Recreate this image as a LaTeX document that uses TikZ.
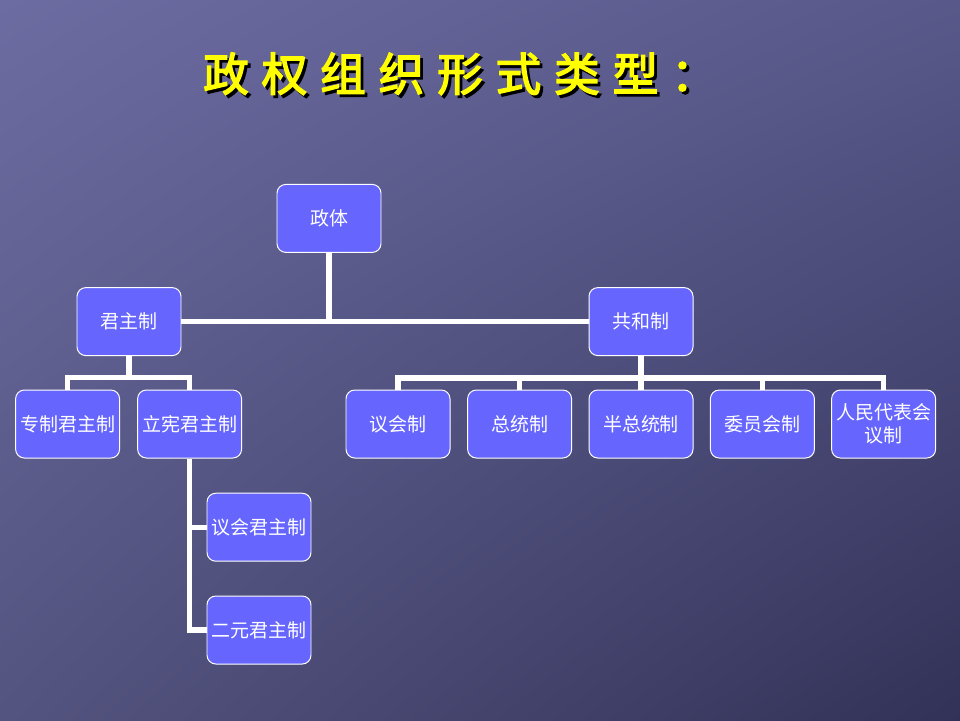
\documentclass[tikz,border=0pt]{standalone}
\usepackage{fontspec}
\usetikzlibrary{shadings}
\newfontfamily\cjk{Noto Sans CJK SC}
\newfontfamily\cjktitle[FakeBold=3,LetterSpace=28]{Noto Sans CJK SC}
\definecolor{bgtl}{RGB}{108,108,162}
\definecolor{bgtr}{RGB}{88,88,138}
\definecolor{bgbl}{RGB}{84,84,128}
\definecolor{bgbr}{RGB}{50,50,88}
\definecolor{boxfill}{RGB}{102,102,255}
\definecolor{titleyellow}{RGB}{255,255,0}
\newcommand{\titletext}{政权组织形式类型：}

\tikzset{
  box/.style={draw=white, line width=0.7pt, fill=boxfill, rounded corners=0.22cm,
    minimum width=2.6cm, minimum height=1.7cm, inner sep=1pt, align=center,
    text=white, font=\cjk\fontsize{13.5}{16}\selectfont},
  link/.style={draw=white, line width=3.8pt}
}

\begin{document}
\begin{tikzpicture}
  \useasboundingbox (0, 0) rectangle (24, -18);
  \shade[upper left=bgtl, upper right=bgtr, lower left=bgbl, lower right=bgbr]
    (0, 0) rectangle (24, -18);

  % title with shadow
  \node (title) at (11.5, -1.88) {\cjktitle\fontsize{32.5}{33}\selectfont
    \makebox[0pt][l]{\raisebox{-2pt}{\hspace{2pt}\color{black}\titletext}}\color{titleyellow}\titletext};

  % boxes
  \node[box] (zhengti) at (8.225, -5.46) {政体};
  \node[box] (junzhu) at (3.225, -8.04) {君主制};
  \node[box] (gonghe) at (16.025, -8.04) {共和制};

  \node[box] (zhuanzhi) at (1.69, -10.6) {专制君主制};
  \node[box] (lixian) at (4.74, -10.6) {立宪君主制};
  \node[box] (yihui) at (9.95, -10.6) {议会制};
  \node[box] (zongtong) at (12.99, -10.6) {总统制};
  \node[box] (banzong) at (16.025, -10.6) {半总统制};
  \node[box] (weiyuan) at (19.06, -10.6) {委员会制};
  \node[box] (renmin) at (22.09, -10.6) {人民代表会\\议制};

  \node[box] (yihuijz) at (6.475, -13.18) {议会君主制};
  \node[box] (eryuan) at (6.475, -15.75) {二元君主制};

  % connectors
  \coordinate (jbar) at (0, -9.43);
  \coordinate (gbar) at (0, -9.45);
  \draw[link] (zhengti.south) -- (zhengti.south |- junzhu.east);
  \draw[link] (junzhu.east) -- (gonghe.west);

  \draw[link] (junzhu.south) -- (junzhu.south |- jbar);
  \draw[link] (zhuanzhi.north) |- (lixian.north |- jbar) -- (lixian.north);

  \draw[link] (gonghe.south) -- (gonghe.south |- gbar);
  \draw[link] (yihui.north) |- (renmin.north |- gbar) -- (renmin.north);
  \foreach \n in {zongtong, banzong, weiyuan}
    \draw[link] (\n.north) -- (\n.north |- gbar);

  \draw[link] (lixian.south) |- (eryuan.west);
  \draw[link] (lixian.south |- yihuijz.west) -- (yihuijz.west);
\end{tikzpicture}
\end{document}
